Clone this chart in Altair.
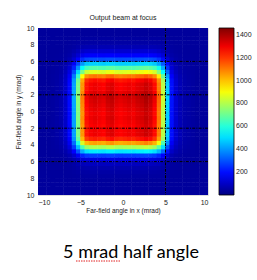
import altair as alt
import pandas as pd

# cell centres (mrad) for the 0.5 mrad grid
centres = [-9.75 + 0.5 * i for i in range(40)]

# profile across x (normalized), read along the middle row
fx = [0, 0, 0, 0.005, 0.01, 0.02, 0.05, 0.12, 0.3, 0.55,
      0.82, 0.97, 1.0, 1.01, 1.0, 0.99, 1.02, 1.03, 1.0, 0.99,
      1.0, 1.01, 1.0, 1.02, 1.03, 1.05, 1.03, 0.98, 0.85, 0.62,
      0.35, 0.13, 0.06, 0.03, 0.015, 0.01, 0.005, 0, 0, 0]
# profile across y (normalized, bottom to top), read along the middle column
fy = [0, 0, 0, 0, 0.005, 0.01, 0.02, 0.04, 0.08, 0.18,
      0.38, 0.6, 0.8, 0.95, 1.0, 1.0, 0.99, 1.0, 1.01, 1.0,
      1.01, 1.02, 1.03, 1.04, 1.02, 1.0, 1.0, 0.97, 0.85, 0.66,
      0.5, 0.35, 0.2, 0.11, 0.06, 0.025, 0.01, 0.005, 0, 0]
background = 40
peak = 1250

color_domain = [0, 182, 548, 912, 1278, 1460]
color_range = ["#000080", "#0000ff", "#00ffff", "#ffff00", "#ff0000", "#800000"]
legend_values = [200, 400, 600, 800, 1000, 1200, 1400]

hlines = [-6, -2, 2, 6]
vlines = [5]

x_ticks = [-10, -5, 0, 5, 10]
y_ticks = [-10, -8, -6, -4, -2, 0, 2, 4, 6, 8, 10]

half = 0.25
overlap = 0.03
rows = []
for i, cx in enumerate(centres):
    for j, cy in enumerate(centres):
        rows.append({"x0": max(-10, cx - half - overlap), "x1": min(10, cx + half + overlap),
                     "y0": max(-10, cy - half - overlap), "y1": min(10, cy + half + overlap),
                     "v": background + peak * fx[i] * fy[j]})
grid = pd.DataFrame(rows)

FONT = "Liberation Sans"
xs = alt.Scale(domain=[-10, 10], nice=False, zero=False)
ys = alt.Scale(domain=[-10, 10], nice=False, zero=False)

x_axis = alt.Axis(
    values=x_ticks, title="Far-field angle in x (mrad)", ticks=False,
    domain=False, grid=False, labelFontSize=7, labelPadding=3,
    titleFontSize=6.5, titleFontWeight="normal", titlePadding=2,
    labelFont=FONT, titleFont=FONT, labelColor="#222", titleColor="#222",
    labelOverlap=False)
y_axis = alt.Axis(
    values=y_ticks, labelExpr="abs(datum.value)",
    title="Far-field angle in y (mrad)", ticks=False, domain=False,
    grid=False, labelFontSize=7, labelPadding=4, titleFontSize=6.5,
    titleFontWeight="normal", titlePadding=5, labelFont=FONT,
    titleFont=FONT, labelColor="#222", titleColor="#222",
    labelOverlap=False)

heat = alt.Chart(grid).mark_rect(strokeWidth=0).encode(
    x=alt.X("x0:Q", scale=xs, axis=x_axis),
    x2="x1:Q",
    y=alt.Y("y0:Q", scale=ys, axis=y_axis),
    y2="y1:Q",
    color=alt.Color("v:Q", scale=alt.Scale(domain=color_domain, range=color_range,
                                           interpolate="rgb"),
                    legend=alt.Legend(orient="none", legendX=181, legendY=0,
                                      direction="vertical", title=None,
                                      values=legend_values, gradientLength=167,
                                      gradientThickness=15, format="d",
                                      gradientStrokeColor="black",
                                      gradientStrokeWidth=0.8,
                                      labelFontSize=7, labelFont=FONT,
                                      labelColor="#222", labelOverlap=False,
                                      labelOffset=2)),
)

hrule = alt.Chart(pd.DataFrame({"y": hlines})).mark_rule(
    color="black", strokeWidth=1, strokeDash=[3, 1.2, 1, 1.2]).encode(
    y=alt.Y("y:Q", scale=ys, axis=y_axis))
vrule = alt.Chart(pd.DataFrame({"x": vlines})).mark_rule(
    color="black", strokeWidth=1, strokeDash=[3, 1.2, 1, 1.2]).encode(
    x=alt.X("x:Q", scale=xs, axis=x_axis))

title_txt = alt.Chart(pd.DataFrame({"t": ["Output beam at focus"]})).mark_text(
    fontSize=7, font=FONT, color="#222", baseline="middle", align="center").encode(
    x=alt.value(85), y=alt.value(-10), text="t:N")

caption = alt.Chart(pd.DataFrame({"t": ["5 mrad half angle"]})).mark_text(
    fontSize=18, font="Lato", color="black", baseline="alphabetic", align="center").encode(
    x=alt.value(93), y=alt.value(230), text="t:N")

squiggle = alt.Chart(pd.DataFrame({"a": [0]})).mark_rule(
    color="#e02020", strokeWidth=1, strokeDash=[1.5, 1]).encode(
    x=alt.value(38), x2=alt.value(82), y=alt.value(233))

chart = alt.layer(heat, hrule, vrule, title_txt, caption, squiggle).properties(
    width=170, height=167,
    autosize=alt.AutoSizeParams(type="none"),
    padding={"left": 38, "top": 28, "right": 49, "bottom": 85},
).configure_view(stroke="black", strokeWidth=0.8).configure(background="white")

chart.save("out.html", embed_options={"renderer": "svg", "actions": False})
